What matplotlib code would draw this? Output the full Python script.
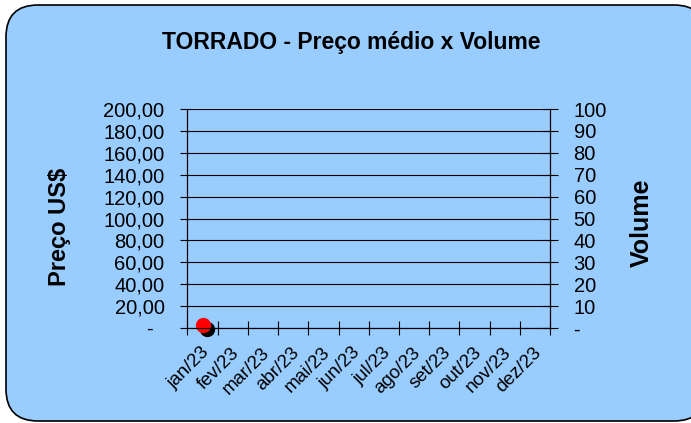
import matplotlib.pyplot as plt
import matplotlib.transforms as mtransforms
import numpy as np
from matplotlib.patches import FancyBboxPatch

plt.rcParams['font.family'] = ['Liberation Sans', 'DejaVu Sans']

months = ['jan/23', 'fev/23', 'mar/23', 'abr/23', 'mai/23', 'jun/23',
          'jul/23', 'ago/23', 'set/23', 'out/23', 'nov/23', 'dez/23']
preco = [3.0, np.nan, np.nan, np.nan, np.nan, np.nan,
         np.nan, np.nan, np.nan, np.nan, np.nan, np.nan]
preco_ticks = [0, 20, 40, 60, 80, 100, 120, 140, 160, 180, 200]
volume_ticks = [0, 10, 20, 30, 40, 50, 60, 70, 80, 90, 100]

fig = plt.figure(figsize=(6.91, 4.23), dpi=100)
fig.patch.set_facecolor('white')

# rounded chart background (pixel coords)
bg = FancyBboxPatch((6, 2), 700, 416, boxstyle='round,pad=0,rounding_size=32',
                    transform=None, facecolor='#99CCFF', edgecolor='black',
                    linewidth=1.2, zorder=-1)
fig.patches.append(bg)

ax = fig.add_axes([0.2713, 0.2246, 0.5246, 0.5177])
ax.set_facecolor('none')
x = np.arange(len(months))
ax.set_xlim(-0.5, len(months) - 0.5)
ax.set_ylim(0, 200)

ax.set_yticks(preco_ticks)
ax.set_yticklabels(['-  ' if v == 0 else f'{v:.2f}'.replace('.', ',') for v in preco_ticks])
ax.tick_params(axis='y', direction='out', length=5, width=0.8, pad=11.5, labelsize=14.5)
ax.grid(axis='y', color='black', linewidth=0.8)

ax.set_xticks(np.arange(-0.5, len(months)), minor=False)
ax.set_xticklabels([])
ax.set_xticks(x, minor=True)
ax.set_xticklabels(months, minor=True, rotation=45, ha='right', va='center',
                   rotation_mode='anchor', fontsize=13.5)
ax.tick_params(axis='x', which='major', direction='inout', length=10, width=0.8)
ax.tick_params(axis='x', which='minor', length=0, pad=16)
nudge = mtransforms.ScaledTranslation(4 / 100, 0, fig.dpi_scale_trans)
for lbl in ax.get_xticklabels(minor=True):
    lbl.set_transform(lbl.get_transform() + nudge)

for s in ['left', 'right', 'bottom']:
    ax.spines[s].set_linewidth(0.8)
ax.spines['top'].set_visible(False)

shadow = mtransforms.offset_copy(ax.transData, fig=fig, x=4, y=-4, units='dots')
ax.plot(x, preco, 'o', color='black', markersize=10, transform=shadow,
        clip_on=False, zorder=3)
ax.plot(x, preco, 'o', color='#FF0000', markersize=10, clip_on=False, zorder=4)

ax2 = ax.twinx()
ax2.set_ylim(0, 100)
ax2.set_yticks(volume_ticks)
ax2.set_yticklabels(['-' if v == 0 else str(v) for v in volume_ticks])
ax2.tick_params(axis='y', direction='inout', length=12, width=0.8, pad=11, labelsize=14.5)
ax2.spines['top'].set_visible(False)
ax2.spines['right'].set_linewidth(0.8)

fig.text(0.5087, 0.9007, 'TORRADO - Preço médio x Volume', ha='center', va='center',
         fontsize=16.5, fontweight='bold')
fig.text(0.0868, 0.463, 'Preço US$', rotation=90, ha='center', va='center',
         fontsize=17, fontweight='bold')
fig.text(0.9287, 0.473, 'Volume', rotation=90, ha='center', va='center',
         fontsize=18, fontweight='bold')

fig.savefig('out.png', dpi=100)
